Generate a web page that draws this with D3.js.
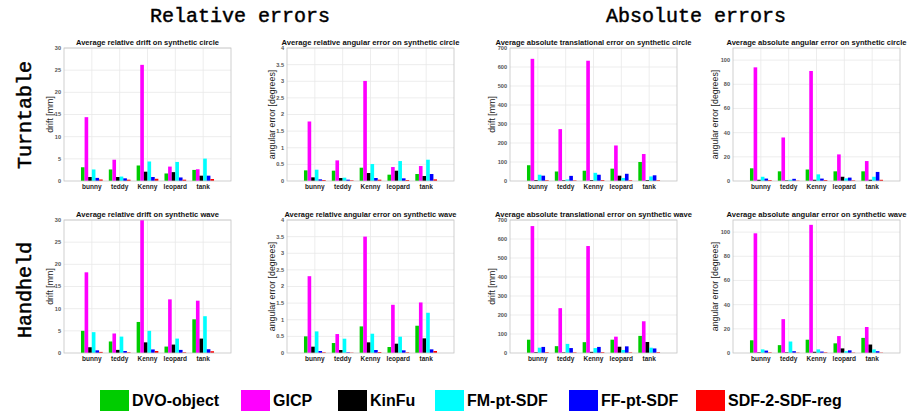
<!doctype html>
<html lang="en">
  <head>
    <meta charset="utf-8">
    <title>Relative and absolute errors</title>
    <script src="https://d3js.org/d3.v7.min.js"></script>
    <style>
      body { margin: 0; background: #fff; }
      svg { display: block; }
    </style>
  </head>

  <body>
    <svg width="909" height="418"></svg>

    <script>
      var categories = ["bunny", "teddy", "Kenny", "leopard", "tank"];
      var methods = ["DVO-object", "GICP", "KinFu", "FM-pt-SDF", "FF-pt-SDF", "SDF-2-SDF-reg"];
      var colors = ["#00cc00", "#ff00ff", "#000000", "#00ffff", "#0000ff", "#ff0000"];

      // one row per method, one value per category
      var relDriftCircle = [
        [3.1, 2.6, 3.5, 1.7, 2.5],
        [14.4, 4.8, 26.2, 3.25, 2.65],
        [0.9, 0.9, 2.1, 2.0, 1.2],
        [2.6, 1.0, 4.4, 4.3, 5.05],
        [0.7, 0.6, 0.9, 0.8, 1.2],
        [0.35, 0.3, 0.5, 0.3, 0.45]
      ];
      var relAngCircle = [
        [0.32, 0.31, 0.4, 0.19, 0.21],
        [1.79, 0.62, 3.01, 0.42, 0.45],
        [0.11, 0.09, 0.24, 0.31, 0.15],
        [0.34, 0.1, 0.51, 0.6, 0.64],
        [0.05, 0.04, 0.09, 0.08, 0.21],
        [0.03, 0.02, 0.04, 0.03, 0.05]
      ];
      var absTransCircle = [
        [83, 50, 54, 65, 100],
        [643, 273, 633, 187, 142],
        [5, 4, 5, 28, 5],
        [33, 8, 43, 16, 24],
        [28, 27, 33, 38, 30],
        [4, 3, 5, 4, 4]
      ];
      var absAngCircle = [
        [10.5, 8, 9.5, 8, 8],
        [94, 36, 91, 22, 16.5],
        [1, 0.5, 1, 3.5, 1],
        [3.5, 1, 5.5, 2.2, 3.5],
        [2, 1.8, 2, 2.8, 7.5],
        [0.8, 0.3, 0.8, 0.5, 1]
      ];
      var relDriftWave = [
        [5.0, 2.6, 7.0, 1.45, 7.6],
        [18.2, 4.4, 30, 12.1, 11.8],
        [1.3, 0.7, 2.4, 1.9, 3.25],
        [4.7, 3.7, 5.0, 3.25, 8.3],
        [0.6, 0.45, 0.8, 0.7, 0.85],
        [0.25, 0.15, 0.45, 0.15, 0.4]
      ];
      var relAngWave = [
        [0.5, 0.3, 0.8, 0.18, 0.82],
        [2.31, 0.57, 3.5, 1.45, 1.52],
        [0.19, 0.09, 0.32, 0.28, 0.44],
        [0.65, 0.43, 0.58, 0.49, 1.21],
        [0.06, 0.02, 0.09, 0.08, 0.11],
        [0.02, 0.01, 0.03, 0.02, 0.06]
      ];
      var absTransWave = [
        [70, 36, 57, 70, 90],
        [668, 236, 563, 86, 167],
        [4, 3, 6, 33, 58],
        [28, 48, 26, 16, 28],
        [32, 26, 32, 35, 24],
        [4, 3, 4, 3, 4]
      ];
      var absAngWave = [
        [10.5, 6.5, 11, 8, 12.5],
        [99, 28, 106, 14, 21.5],
        [0.5, 0.5, 1, 3.8, 7],
        [3, 9.5, 3, 1.5, 3],
        [2, 1.5, 1.2, 2.2, 1.5],
        [0.5, 0.3, 0.5, 0.3, 0.3]
      ];

      var relDriftTicks = [0, 5, 10, 15, 20, 25, 30];
      var relAngTicks = [0, 0.5, 1, 1.5, 2, 2.5, 3, 3.5, 4];
      var absTransTicks = [0, 100, 200, 300, 400, 500, 600, 700];
      var absAngTicks = [0, 20, 40, 60, 80, 100];

      var svg = d3.select('svg');

      var colLeft = [64, 287, 510, 733];
      var rowTop = [48, 220];
      var plotW = 167, plotH = 133;

      var panels = [
        {data: relDriftCircle, ticks: relDriftTicks, ymax: 30, col: 0, row: 0, tw: 143, ylab: "drift [mm]", lx: 14,
          title: "Average relative drift on synthetic circle"},
        {data: relAngCircle, ticks: relAngTicks, ymax: 4, col: 1, row: 0, tw: 178, ylab: "angular error [degrees]", lx: 15,
          title: "Average relative angular error on synthetic circle"},
        {data: absTransCircle, ticks: absTransTicks, ymax: 700, col: 2, row: 0, tw: 196, ylab: "drift [mm]", lx: 18,
          title: "Average absolute translational error on synthetic circle"},
        {data: absAngCircle, ticks: absAngTicks, ymax: 110, col: 3, row: 0, tw: 180, ylab: "angular error [degrees]", lx: 18,
          title: "Average absolute angular error on synthetic circle"},
        {data: relDriftWave, ticks: relDriftTicks, ymax: 30, col: 0, row: 1, tw: 143, ylab: "drift [mm]", lx: 14,
          title: "Average relative drift on synthetic wave"},
        {data: relAngWave, ticks: relAngTicks, ymax: 4, col: 1, row: 1, tw: 172, ylab: "angular error [degrees]", lx: 15,
          title: "Average relative angular error on synthetic wave"},
        {data: absTransWave, ticks: absTransTicks, ymax: 700, col: 2, row: 1, tw: 197, ylab: "drift [mm]", lx: 18,
          title: "Average absolute translational error on synthetic wave"},
        {data: absAngWave, ticks: absAngTicks, ymax: 110, col: 3, row: 1, tw: 180, ylab: "angular error [degrees]", lx: 18,
          title: "Average absolute angular error on synthetic wave"}
      ];

      var offset = d3.scaleBand().domain(d3.range(methods.length)).range([-0.39, 0.39]);

      panels.forEach(function(p){
        var left = colLeft[p.col], top = rowTop[p.row];
        var x = d3.scaleLinear().domain([0, 6]).range([left, left + plotW]);
        var y = d3.scaleLinear().domain([0, p.ymax]).range([top + plotH, top]).clamp(true);
        var g = svg.append('g');

        // grid
        g.selectAll('.hgrid').data(p.ticks.slice(1)).enter()
          .append('line')
          .attr('x1', left).attr('x2', left + plotW)
          .attr('y1', function(d){ return y(d); })
          .attr('y2', function(d){ return y(d); })
          .attr('stroke', '#e8e8e8').attr('stroke-width', 0.8);
        g.selectAll('.vgrid').data(categories).enter()
          .append('line')
          .attr('x1', function(d, i){ return x(i + 1); })
          .attr('x2', function(d, i){ return x(i + 1); })
          .attr('y1', top).attr('y2', top + plotH)
          .attr('stroke', '#e8e8e8').attr('stroke-width', 0.8);

        // bars
        p.data.forEach(function(series, m){
          g.selectAll(null).data(series).enter()
            .append('rect')
            .attr('x', function(d, i){ return x(i + 1 + offset(m)); })
            .attr('width', x(offset.bandwidth()) - x(0))
            .attr('y', function(d){ return y(d); })
            .attr('height', function(d){ return y(0) - y(d); })
            .attr('fill', colors[m]);
        });

        g.append('rect')
          .attr('x', left).attr('y', top)
          .attr('width', plotW).attr('height', plotH)
          .attr('fill', 'none').attr('stroke', '#c4c4c4').attr('stroke-width', 0.8);

        // tick labels
        g.selectAll('.yt').data(p.ticks).enter()
          .append('text')
          .attr('x', left - 3)
          .attr('y', function(d){ return y(d); })
          .attr('dy', '0.35em')
          .attr('text-anchor', 'end')
          .style('font', 'bold 5.6px "Liberation Sans", Arial, sans-serif')
          .attr('fill', '#555')
          .text(function(d){ return d; });

        g.selectAll('.xt').data(categories).enter()
          .append('text')
          .attr('x', function(d, i){ return x(i + 1); })
          .attr('y', top + plotH + 8)
          .attr('text-anchor', 'middle')
          .style('font', 'bold 6.5px "Liberation Sans", Arial, sans-serif')
          .attr('fill', '#222')
          .text(function(d){ return d; });

        g.append('text')
          .attr('x', left + plotW / 2)
          .attr('y', top - 3.5)
          .attr('text-anchor', 'middle')
          .attr('textLength', p.tw)
          .attr('lengthAdjust', 'spacingAndGlyphs')
          .style('font', 'bold 7.5px "Liberation Sans", Arial, sans-serif')
          .attr('fill', '#111')
          .text(p.title);

        g.append('text')
          .attr('transform', 'translate(' + (left - p.lx) + ',' + (top + plotH / 2) + ') rotate(-90)')
          .attr('text-anchor', 'middle')
          .attr('dy', '0.35em')
          .style('font', '8.8px "Liberation Sans", Arial, sans-serif')
          .attr('fill', '#222')
          .text(p.ylab);
      });

      // headings
      var mono = '20px "Liberation Mono", "DejaVu Sans Mono", monospace';
      function heading(sel){
        return sel.style('font', mono).attr('fill', '#000')
          .attr('stroke', '#000').attr('stroke-width', 0.45);
      }
      heading(svg.append('text').attr('x', 240).attr('y', 22).attr('text-anchor', 'middle'))
        .text('Relative errors');
      heading(svg.append('text').attr('x', 696).attr('y', 22).attr('text-anchor', 'middle'))
        .text('Absolute errors');
      heading(svg.append('text').attr('transform', 'translate(24,115) rotate(-90)')
        .attr('text-anchor', 'middle').attr('dy', '0.35em'))
        .text('Turntable');
      heading(svg.append('text').attr('transform', 'translate(24,290) rotate(-90)')
        .attr('text-anchor', 'middle').attr('dy', '0.35em'))
        .text('Handheld');

      // legend
      var legendX = [100, 241, 338, 435, 569, 696];
      var legend = svg.selectAll('.leg').data(methods).enter()
        .append('g')
        .attr('transform', function(d, i){ return 'translate(' + legendX[i] + ',390)'; });
      legend.append('rect')
        .attr('width', 29).attr('height', 21)
        .attr('fill', function(d, i){ return colors[i]; });
      legend.append('text')
        .attr('x', 32).attr('y', 10.5).attr('dy', '0.35em')
        .style('font', 'bold 16px "Liberation Sans", Arial, sans-serif')
        .text(function(d){ return d; });
    </script>
  </body>
</html>
